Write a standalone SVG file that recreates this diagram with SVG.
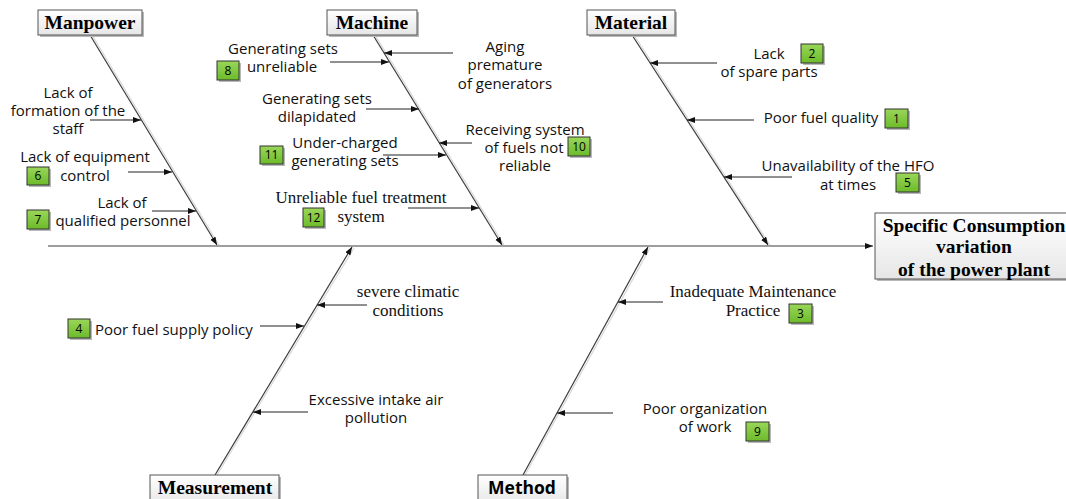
<svg xmlns="http://www.w3.org/2000/svg" width="1066" height="499" viewBox="0 0 1066 499">
<style>
.bone{stroke:#3c3c3c;stroke-width:1.2;fill:none}
.boneShadow{stroke:#d8d8d8;stroke-width:1.2;fill:none}
.arr{stroke:#222;stroke-width:1;fill:none}
.sans{font-family:"Open Sans","Liberation Sans",sans-serif;font-size:15px;fill:#111;text-anchor:middle}
.serif{font-family:"Liberation Serif","Times New Roman",serif;font-size:17px;fill:#111;text-anchor:middle}
.cat{font-family:"Liberation Serif","Times New Roman",serif;font-size:19.5px;font-weight:bold;fill:#000;text-anchor:middle}
.catBox{fill:url(#gBox);stroke:#555;stroke-width:1}
.shadow{fill:#b8b8b8}
.num{fill:url(#gGreen);stroke:#333;stroke-width:1}
.numT{font-family:"Open Sans","Liberation Sans",sans-serif;font-size:12px;fill:#000;text-anchor:middle}
</style>
<defs>
<linearGradient id="gBox" x1="0" y1="0" x2="0" y2="1"><stop offset="0" stop-color="#ffffff"/><stop offset="1" stop-color="#e6e6e6"/></linearGradient>
<linearGradient id="gGreen" x1="0" y1="0" x2="0" y2="1"><stop offset="0" stop-color="#9ad65a"/><stop offset="1" stop-color="#6cbb2a"/></linearGradient>
<marker id="ah" markerUnits="userSpaceOnUse" markerWidth="9" markerHeight="7" refX="8" refY="3" orient="auto"><path d="M0,0 L8,3 L0,6 z" fill="#111"/></marker>
</defs>
<rect width="1066" height="499" fill="#fff"/>

<g id="connectors">
<line class="bone" x1="48" y1="246" x2="873" y2="246" marker-end="url(#ah)"/>
<line class="boneShadow" x1="92" y1="35" x2="219" y2="245"/>
<line class="bone" x1="90" y1="35" x2="217" y2="245" marker-end="url(#ah)"/>
<line class="boneShadow" x1="375" y1="35" x2="504" y2="245"/>
<line class="bone" x1="373" y1="35" x2="502" y2="245" marker-end="url(#ah)"/>
<line class="boneShadow" x1="634" y1="35" x2="770" y2="245"/>
<line class="bone" x1="632" y1="35" x2="768" y2="245" marker-end="url(#ah)"/>
<line class="boneShadow" x1="217" y1="475" x2="354" y2="248"/>
<line class="bone" x1="215" y1="475" x2="352" y2="247" marker-end="url(#ah)"/>
<line class="boneShadow" x1="525" y1="475" x2="650" y2="248"/>
<line class="bone" x1="523" y1="475" x2="648" y2="247" marker-end="url(#ah)"/>

<line class="arr" x1="90" y1="120" x2="141" y2="120" marker-end="url(#ah)"/>
<line class="arr" x1="128" y1="172" x2="172" y2="172" marker-end="url(#ah)"/>
<line class="arr" x1="152" y1="211" x2="196" y2="211" marker-end="url(#ah)"/>

<line class="arr" x1="453" y1="53" x2="384" y2="53" marker-end="url(#ah)"/>
<line class="arr" x1="330" y1="62" x2="389" y2="62" marker-end="url(#ah)"/>
<line class="arr" x1="366" y1="109" x2="419" y2="109" marker-end="url(#ah)"/>
<line class="arr" x1="472" y1="143" x2="439" y2="143" marker-end="url(#ah)"/>
<line class="arr" x1="383" y1="155" x2="446" y2="155" marker-end="url(#ah)"/>
<line class="arr" x1="408" y1="208" x2="479" y2="208" marker-end="url(#ah)"/>

<line class="arr" x1="717" y1="63" x2="650" y2="63" marker-end="url(#ah)"/>
<line class="arr" x1="754" y1="120" x2="687" y2="120" marker-end="url(#ah)"/>
<line class="arr" x1="792" y1="177" x2="724" y2="177" marker-end="url(#ah)"/>

<line class="arr" x1="367" y1="305" x2="317" y2="305" marker-end="url(#ah)"/>
<line class="arr" x1="260" y1="326" x2="304" y2="326" marker-end="url(#ah)"/>
<line class="arr" x1="308" y1="412" x2="253" y2="412" marker-end="url(#ah)"/>

<line class="arr" x1="663" y1="302" x2="618" y2="302" marker-end="url(#ah)"/>
<line class="arr" x1="613" y1="413" x2="557" y2="413" marker-end="url(#ah)"/>
</g>

<g id="effect">
<rect class="shadow" x="877" y="215" width="195" height="66"/>
<rect class="catBox" x="875" y="213" width="195" height="66"/>
<text class="cat" x="974" y="232">Specific Consumption</text>
<text class="cat" x="974" y="253">variation</text>
<text class="cat" x="974" y="276">of the power plant</text>
</g>

<g id="manpower">
<rect class="shadow" x="40" y="12" width="104" height="25"/>
<rect class="catBox" x="38" y="10" width="104" height="25"/>
<text class="cat" x="90" y="29">Manpower</text>
</g>
<g id="machine">
<rect class="shadow" x="329" y="12" width="90" height="25"/>
<rect class="catBox" x="327" y="10" width="90" height="25"/>
<text class="cat" x="372" y="29">Machine</text>
</g>
<g id="material">
<rect class="shadow" x="589" y="12" width="88" height="25"/>
<rect class="catBox" x="587" y="10" width="88" height="25"/>
<text class="cat" x="631" y="29">Material</text>
</g>
<g id="measurement">
<rect class="shadow" x="152" y="477" width="129" height="30"/>
<rect class="catBox" x="150" y="475" width="129" height="30"/>
<text class="cat" x="215" y="494">Measurement</text>
</g>
<g id="method">
<rect class="shadow" x="480" y="477" width="89" height="30"/>
<rect class="catBox" x="478" y="475" width="89" height="30"/>
<text class="cat" x="522" y="494" style="font-family:'Open Sans','Liberation Sans',sans-serif;font-size:17.5px">Method</text>
</g>

<g id="cause-staff">
<text class="sans" x="68" y="98">Lack of</text>
<text class="sans" x="68" y="116">formation of the</text>
<text class="sans" x="68" y="134">staff</text>
</g>
<g id="cause-6">
<text class="sans" x="85" y="162">Lack of equipment</text>
<text class="sans" x="85" y="181">control</text>
<rect class="shadow" x="29" y="169" width="22" height="18"/>
<rect class="num" x="27" y="167" width="22" height="18"/>
<text class="numT" x="38" y="180">6</text>
</g>
<g id="cause-7">
<text class="sans" x="122" y="208">Lack of</text>
<text class="sans" x="123" y="226">qualified personnel</text>
<rect class="shadow" x="29" y="212" width="22" height="19"/>
<rect class="num" x="27" y="210" width="22" height="19"/>
<text class="numT" x="38" y="224">7</text>
</g>

<g id="cause-8">
<text class="sans" x="283" y="54">Generating sets</text>
<text class="sans" x="282" y="72">unreliable</text>
<rect class="shadow" x="219" y="63" width="22" height="19"/>
<rect class="num" x="217" y="61" width="22" height="19"/>
<text class="numT" x="228" y="75">8</text>
</g>
<g id="cause-aging">
<text class="sans" x="505" y="52">Aging</text>
<text class="sans" x="505" y="70">premature</text>
<text class="sans" x="505" y="89">of generators</text>
</g>
<g id="cause-dilapidated">
<text class="sans" x="317" y="104">Generating sets</text>
<text class="sans" x="317" y="122">dilapidated</text>
</g>
<g id="cause-11">
<text class="sans" x="345" y="148">Under-charged</text>
<text class="sans" x="345" y="166">generating sets</text>
<rect class="shadow" x="262" y="148" width="23" height="18"/>
<rect class="num" x="260" y="146" width="23" height="18"/>
<text class="numT" x="271.5" y="159">11</text>
</g>
<g id="cause-10">
<text class="sans" x="525" y="135">Receiving system</text>
<text class="sans" x="524" y="153">of fuels not</text>
<text class="sans" x="525" y="171">reliable</text>
<rect class="shadow" x="570" y="139" width="22" height="19"/>
<rect class="num" x="568" y="137" width="22" height="19"/>
<text class="numT" x="579" y="151">10</text>
</g>
<g id="cause-12">
<text class="serif" x="361" y="203">Unreliable fuel treatment</text>
<text class="serif" x="361" y="222">system</text>
<rect class="shadow" x="305" y="210" width="21" height="19"/>
<rect class="num" x="303" y="208" width="21" height="19"/>
<text class="numT" x="313.5" y="222">12</text>
</g>

<g id="cause-2">
<text class="sans" x="769" y="59">Lack</text>
<text class="sans" x="769" y="77">of spare parts</text>
<rect class="shadow" x="803" y="46" width="22" height="19"/>
<rect class="num" x="801" y="44" width="22" height="19"/>
<text class="numT" x="812" y="58">2</text>
</g>
<g id="cause-1">
<text class="sans" x="821" y="123">Poor fuel quality</text>
<rect class="shadow" x="887" y="111" width="23" height="19"/>
<rect class="num" x="885" y="109" width="23" height="19"/>
<text class="numT" x="896.5" y="123">1</text>
</g>
<g id="cause-5">
<text class="sans" x="848" y="171">Unavailability of the HFO</text>
<text class="sans" x="848" y="190">at times</text>
<rect class="shadow" x="898" y="175" width="23" height="19"/>
<rect class="num" x="896" y="173" width="23" height="19"/>
<text class="numT" x="907.5" y="187">5</text>
</g>

<g id="cause-climatic">
<text class="serif" x="408" y="297">severe climatic</text>
<text class="serif" x="408" y="316">conditions</text>
</g>
<g id="cause-4">
<text class="sans" x="95" y="335" style="text-anchor:start">Poor fuel supply policy</text>
<rect class="shadow" x="70" y="321" width="22" height="19"/>
<rect class="num" x="68" y="319" width="22" height="19"/>
<text class="numT" x="79" y="333">4</text>
</g>
<g id="cause-pollution">
<text class="sans" x="376" y="405">Excessive intake air</text>
<text class="sans" x="376" y="423">pollution</text>
</g>

<g id="cause-3">
<text class="serif" x="753" y="297">Inadequate Maintenance</text>
<text class="serif" x="753" y="316">Practice</text>
<rect class="shadow" x="791" y="306" width="23" height="19"/>
<rect class="num" x="789" y="304" width="23" height="19"/>
<text class="numT" x="800.5" y="318">3</text>
</g>
<g id="cause-9">
<text class="sans" x="705" y="414">Poor organization</text>
<text class="sans" x="705" y="432">of work</text>
<rect class="shadow" x="748" y="424" width="23" height="19"/>
<rect class="num" x="746" y="422" width="23" height="19"/>
<text class="numT" x="757.5" y="436">9</text>
</g>
</svg>
